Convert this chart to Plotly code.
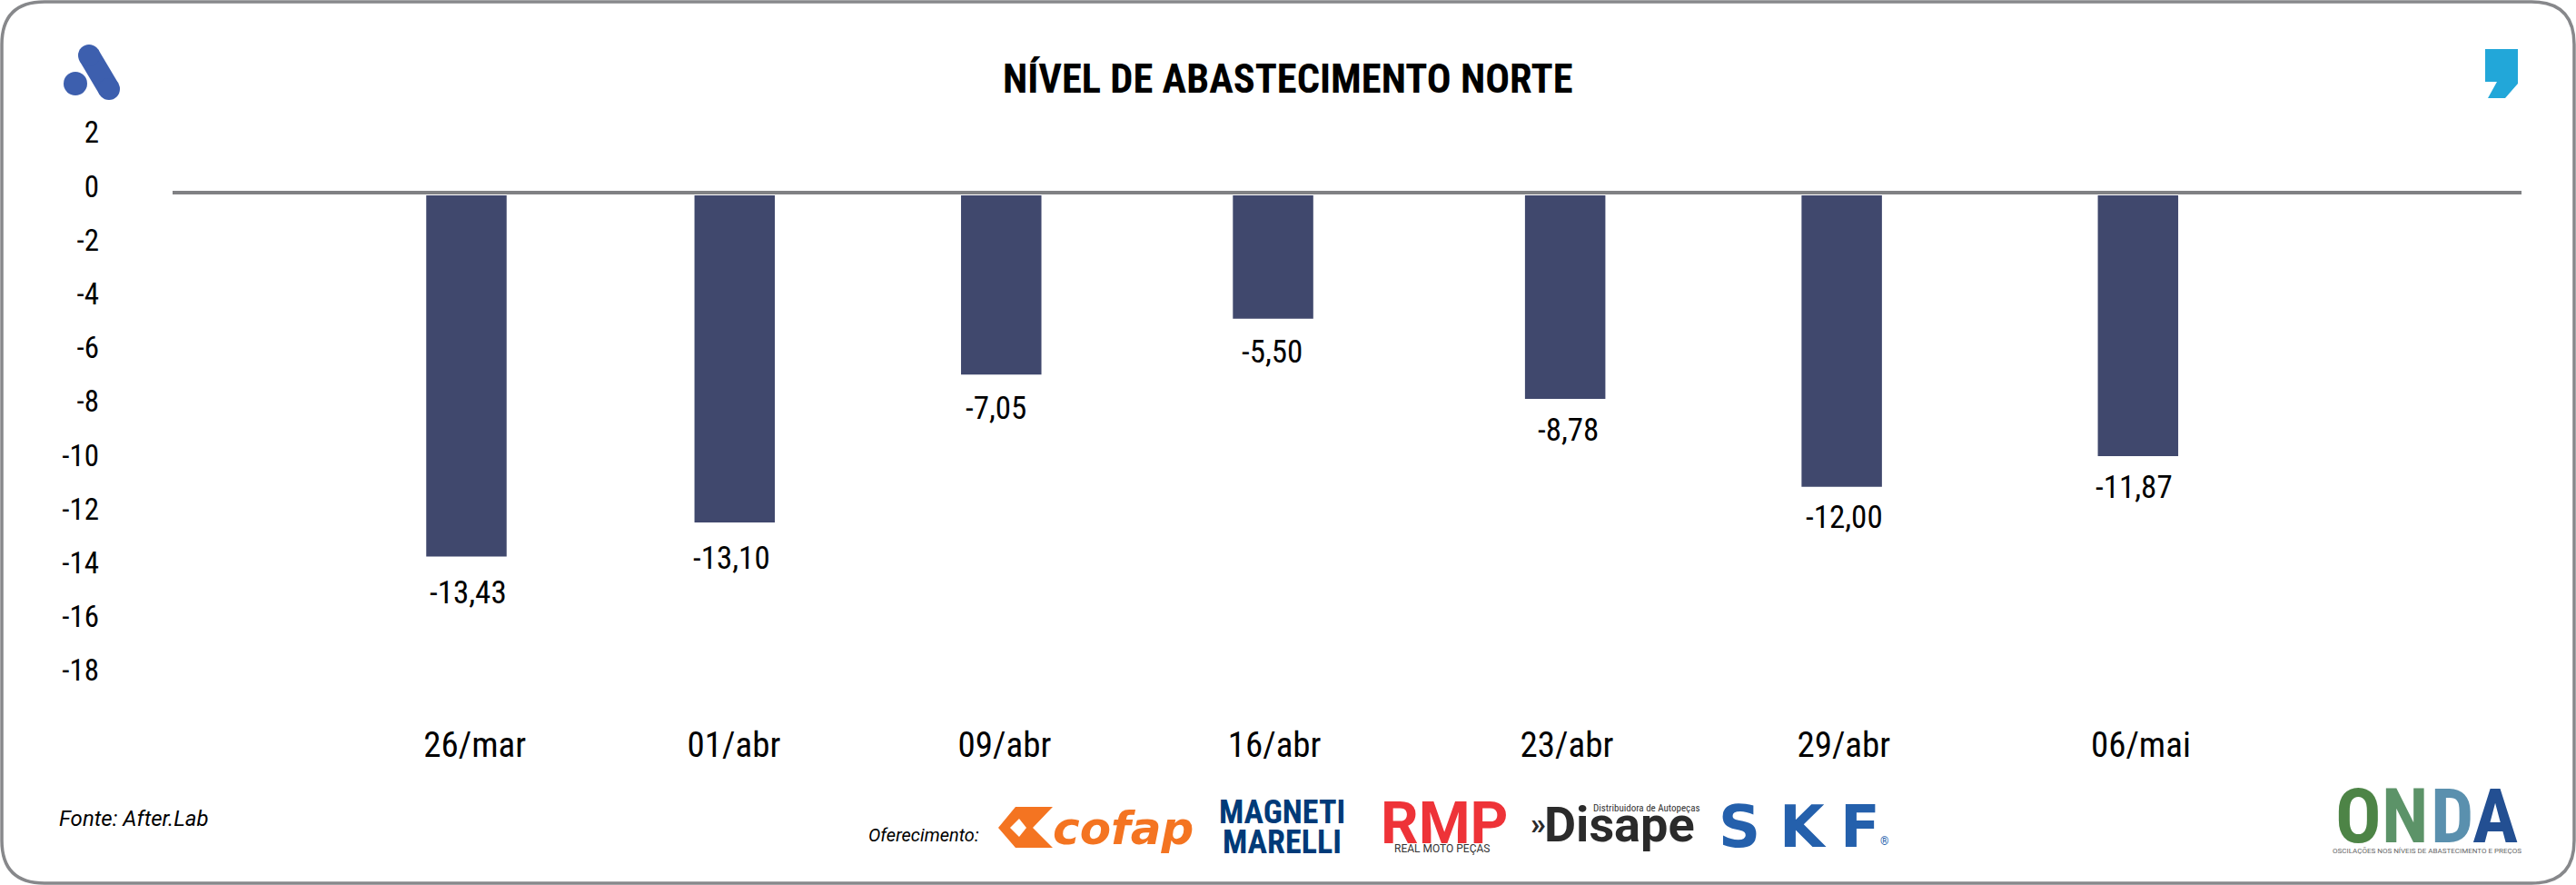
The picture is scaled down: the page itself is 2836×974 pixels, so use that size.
import plotly.graph_objects as go

W, H = 2836, 974
# data
date_labels = ["26/mar", "01/abr", "09/abr", "16/abr", "23/abr", "29/abr", "06/mai"]
bar_slots = [0.0, 0.966, 1.926, 2.905, 3.957, 4.953, 6.02]
tick_slots = [0.03, 0.963, 1.938, 2.91, 3.963, 4.96, 6.03]
label_slots = [0.005, 0.955, 1.908, 2.90, 3.967, 4.963, 6.007]
bar_values = [-13.43, -12.16, -6.66, -4.59, -7.57, -10.84, -9.70]
value_labels = ["-13,43", "-13,10", "-7,05", "-5,50", "-8,78", "-12,00", "-11,87"]
label_gaps = [-40, -40, -37, -37, -34, -34, -34]
y_ticks = [2, 0, -2, -4, -6, -8, -10, -12, -14, -16, -18]
title_text = "NÍVEL DE ABASTECIMENTO NORTE"

L, R, T, B = 190, 2776, 100, 793
X0_PX, SLOT_PX = 513.5, 305.7
PER_UNIT = 29.6
ZERO_PX = 215
COND = "Roboto Condensed, Roboto"

def fx(p): return p / W
def fy(p): return 1 - p / H

shapes, ann = [], []
def text(x, y, s, size, color="#000000", family="Roboto", anchor="center", **kw):
    ann.append(dict(x=fx(x), y=fy(y), xref="paper", yref="paper", text=s, showarrow=False,
                    xanchor=anchor, yanchor="middle", font=dict(size=size, color=color, family=family), **kw))

def path(d, fill=None, line=None, width=0):
    shapes.append(dict(type="path", xref="paper", yref="paper", path=d, fillcolor=fill,
                       line=dict(color=line, width=width)))

def P(*pts):
    return "M" + " L".join(f"{fx(x):.5f},{fy(y):.5f}" for x, y in pts) + " Z"

def circle(x0, y0, x1, y1, c):
    shapes.append(dict(type="circle", xref="paper", yref="paper", x0=fx(x0), x1=fx(x1), y0=fy(y1), y1=fy(y0),
                       fillcolor=c, line=dict(width=0)))

# frame
r = 47; m = 2
pt = lambda x, y: f"{fx(x):.5f},{fy(y):.5f}"
frame = (f"M{pt(m+r,m)} L{pt(W-m-r,m)} Q{pt(W-m,m)} {pt(W-m,m+r)} L{pt(W-m,H-m-r)} Q{pt(W-m,H-m)} {pt(W-m-r,H-m)} "
         f"L{pt(m+r,H-m)} Q{pt(m,H-m)} {pt(m,H-m-r)} L{pt(m,m+r)} Q{pt(m,m)} {pt(m+r,m)} Z")
path(frame, None, "#87888b", 3.5)

# A logo
BL = "#3d5fae"
shapes.append(dict(type="line", xref="paper", yref="paper", x0=fx(98), y0=fy(61), x1=fx(120), y1=fy(98),
                   line=dict(color=BL, width=24)))
circle(86, 49, 110, 73, BL)
circle(108, 86, 132, 110, BL)
circle(70, 79, 96, 105, BL)
# quote mark logo
path(P((2736,54),(2772,54),(2772,92),(2758,108),(2739,108),(2749,90),(2736,90)), "#22a7d9")

# zero line
shapes.append(dict(type="line", xref="paper", yref="paper", x0=fx(190), x1=fx(2776), y0=fy(212), y1=fy(212),
                   line=dict(color="#808184", width=4)))

text(1418, 87, f"<b>{title_text}</b>", 44.5, family=COND)
text(63, 901, "<i>Fonte: After.Lab</i>", 24, anchor="left")
text(954, 919, "<i>Oferecimento:</i>", 20, anchor="left")

# sponsors
path(P((1099,911),(1118,888),(1159,888),(1137,911),(1159,933),(1118,933)), "#f47421")
path(P((1112,911),(1122,901),(1130,911),(1122,921)), "#ffffff")
text(1236, 912, "<b><i>cofap</i></b>", 50, "#f47421", family="DejaVu Sans")
text(1411, 894, "<b>MAGNETI</b>", 36, "#003a78", family=COND)
text(1411, 927, "<b>MARELLI</b>", 36, "#003a78", family=COND)
text(1590, 906, "<b>RMP</b>", 65, "#ee3338")
text(1587, 934, "REAL MOTO PEÇAS", 12, "#333333")
text(1694, 906, "<b>»</b>", 34, "#2b2b2b")
text(1783, 907, "<b>Disape</b>", 54, "#2b2b2b")
text(1812, 889, "Distribuidora de Autopeças", 11, "#333333", family=COND)
for xp, ch in zip([1915, 1985, 2048], "SKF"):
    text(xp, 910, f"<b>{ch}</b>", 64, "#2460ac", family="DejaVu Sans")
text(2074, 926, "®", 12, "#2460ac")

# ONDA
onda_colors = ["#4d8446", "#5c9368", "#5a90ae", "#234f92"]
for xp, ch, c in zip([2596, 2647, 2699, 2747], "ONDA", onda_colors):
    text(xp, 898, f"<b>{ch}</b>", 84, c, family=COND)
text(2672, 936, "OSCILAÇÕES NOS NÍVEIS DE ABASTECIMENTO E PREÇOS", 8, "#666666")

for sl, v, lab, gap in zip(label_slots, bar_values, value_labels, label_gaps):
    ann.append(dict(x=sl, y=v, xref="x", yref="y", text=lab, showarrow=False, yanchor="middle", xanchor="center",
                    yshift=gap, font=dict(size=35, family=COND, color="#000000")))

fig = go.Figure(go.Bar(
    x=bar_slots, y=bar_values, width=88.5 / SLOT_PX, marker=dict(color="#40486d", line=dict(width=0)),
    hoverinfo="skip"))
fig.update_layout(
    width=W, height=H, margin=dict(l=0, r=0, t=0, b=0, autoexpand=False), paper_bgcolor="white", plot_bgcolor="white",
    showlegend=False, shapes=shapes, annotations=ann,
)
fig.update_xaxes(domain=[L / W, R / W], range=[(L - X0_PX) / SLOT_PX, (R - X0_PX) / SLOT_PX], tickmode="array",
                 tickvals=tick_slots, ticktext=date_labels, showgrid=False, zeroline=False, showline=False, ticks="",
                 tickfont=dict(size=39, family=COND, color="#000"), automargin=False)
fig.update_yaxes(domain=[1 - B / H, 1 - T / H], range=[(ZERO_PX - B) / PER_UNIT, (ZERO_PX - T) / PER_UNIT],
                 tickmode="array", tickvals=y_ticks, ticktext=[str(v) for v in y_ticks], showgrid=False,
                 zeroline=False, showline=False, ticks="", tickfont=dict(size=33, family=COND, color="#000"),
                 ticklabelshift=-10, ticklabelstandoff=80, automargin=False)
fig.write_html("out.html", config=dict(displayModeBar=False),
               post_script="document.body.style.margin='0';document.body.style.overflow='hidden';")
